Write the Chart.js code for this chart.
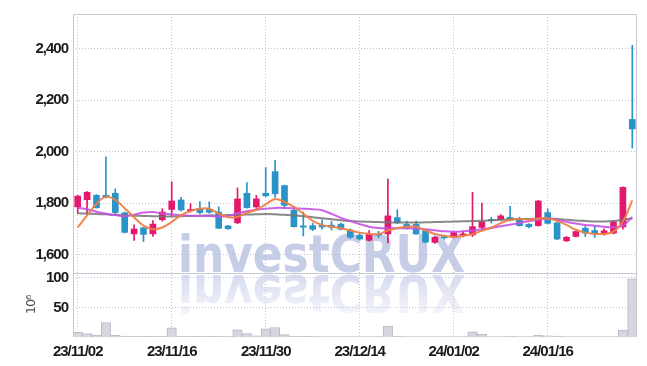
<!DOCTYPE html>
<html>
<head>
<meta charset="utf-8">
<script src="https://cdn.jsdelivr.net/npm/chart.js@4/dist/chart.umd.min.js"></script>
<style>
  html, body { margin: 0; padding: 0; background: #fff; }
  canvas { display: block; }
</style>
</head>
<body>
<canvas id="chart" width="647" height="366"></canvas>
<script>
const dates = [
  "23/11/02", "23/11/03", "23/11/06", "23/11/07", "23/11/08", "23/11/09", "23/11/10", "23/11/13", "23/11/14", "23/11/15",
  "23/11/16", "23/11/17", "23/11/20", "23/11/21", "23/11/22", "23/11/23", "23/11/24", "23/11/27", "23/11/28", "23/11/29",
  "23/11/30", "23/12/01", "23/12/04", "23/12/05", "23/12/06", "23/12/07", "23/12/08", "23/12/11", "23/12/12", "23/12/13",
  "23/12/14", "23/12/15", "23/12/18", "23/12/19", "23/12/20", "23/12/21", "23/12/22", "23/12/26", "23/12/27", "23/12/28",
  "24/01/02", "24/01/03", "24/01/04", "24/01/05", "24/01/08", "24/01/09", "24/01/10", "24/01/11", "24/01/12", "24/01/15",
  "24/01/16", "24/01/17", "24/01/18", "24/01/19", "24/01/22", "24/01/23", "24/01/24", "24/01/25", "24/01/26", "24/01/29"
];

const opens = [
  1785, 1813, 1830, 1830, 1838, 1762, 1680, 1704, 1680, 1735,
  1775, 1812, 1770, 1778, 1776, 1765, 1711, 1723, 1838, 1785,
  1838, 1922, 1868, 1772, 1711, 1712, 1713, 1714, 1718, 1695,
  1675, 1655, 1679, 1680, 1743, 1717, 1717, 1693, 1647, 1668,
  1667, 1675, 1676, 1705, 1736, 1736, 1744, 1740, 1717, 1712,
  1763, 1723, 1653, 1670, 1702, 1693, 1680, 1683, 1707, 2125
];
const highs = [
  1830, 1845, 1833, 1980, 1855, 1765, 1715, 1705, 1732, 1778,
  1883, 1822, 1798, 1806, 1805, 1785, 1713, 1859, 1880, 1830,
  1938, 1966, 1870, 1785, 1765, 1722, 1735, 1728, 1722, 1700,
  1685, 1693, 1690, 1893, 1774, 1730, 1730, 1697, 1670, 1675,
  1688, 1690, 1842, 1800, 1745, 1755, 1787, 1745, 1720, 1810,
  1778, 1725, 1670, 1692, 1710, 1710, 1700, 1730, 1863, 2413
];
const lows = [
  1760, 1755, 1780, 1820, 1758, 1683, 1655, 1650, 1670, 1730,
  1748, 1768, 1765, 1758, 1760, 1700, 1698, 1720, 1780, 1774,
  1825, 1823, 1778, 1706, 1672, 1693, 1698, 1695, 1695, 1662,
  1655, 1652, 1665, 1645, 1720, 1698, 1678, 1645, 1643, 1660,
  1664, 1668, 1670, 1700, 1722, 1733, 1730, 1710, 1703, 1710,
  1719, 1658, 1650, 1668, 1670, 1666, 1675, 1680, 1698, 2014
];
const closes = [
  1827, 1842, 1782, 1823, 1763, 1686, 1699, 1678, 1718, 1765,
  1808, 1773, 1775, 1763, 1764, 1702, 1700, 1816, 1782, 1816,
  1828, 1836, 1791, 1708, 1706, 1698, 1707, 1706, 1698, 1667,
  1660, 1680, 1675, 1750, 1723, 1702, 1680, 1648, 1667, 1665,
  1685, 1680, 1708, 1727, 1731, 1750, 1734, 1712, 1708, 1808,
  1721, 1660, 1667, 1689, 1683, 1680, 1692, 1726, 1861, 2088
];

// moving averages
const ma5 = [
  1705, 1752, 1797, 1825, 1812, 1780, 1745, 1712, 1698, 1705,
  1727, 1753, 1769, 1778, 1778, 1759, 1745, 1746, 1762, 1774,
  1795, 1816, 1804, 1785, 1759, 1731, 1715, 1708, 1702, 1693,
  1685, 1680, 1680, 1693, 1702, 1708, 1708, 1693, 1680, 1673,
  1668, 1672, 1680, 1692, 1705, 1722, 1735, 1738, 1735, 1740,
  1740, 1731, 1715, 1696, 1685, 1680, 1680, 1689, 1727, 1810
];
const ma20 = [
  1782, 1776, 1766, 1759, 1753, 1749, 1755, 1763, 1765, 1759,
  1756, 1753, 1751, 1750, 1750, 1748, 1750, 1760, 1768, 1774,
  1778, 1781, 1781, 1780, 1778, 1776, 1772, 1758, 1742, 1730,
  1718, 1708, 1703, 1702, 1702, 1702, 1701, 1698, 1694, 1690,
  1688, 1690, 1693, 1698, 1703, 1710, 1716, 1722, 1730, 1735,
  1740, 1735, 1727, 1720, 1715, 1712, 1708, 1706, 1712, 1746
];
const ma60 = [
  1760, 1759, 1757, 1756, 1754, 1752, 1751, 1750, 1749, 1748,
  1748, 1749, 1750, 1751, 1752, 1752, 1753, 1754, 1755, 1756,
  1757, 1756, 1754, 1752, 1749, 1745, 1741, 1737, 1733, 1730,
  1728, 1727, 1726, 1725, 1724, 1724, 1724, 1725, 1726, 1727,
  1728, 1729, 1730, 1731, 1733, 1735, 1736, 1737, 1738, 1739,
  1740, 1738, 1735, 1732, 1730, 1728, 1728, 1730, 1735, 1740
];

// volume, millions
const volumes = [
  7.8, 5.6, 3.3, 24.5, 3.3, 1.5, 1.2, 1.2, 1.0, 1.2,
  15.5, 1.5, 1.0, 1.0, 1.2, 1.0, 1.0, 12, 5.6, 2,
  13.7, 16, 4, 1.5, 1.5, 1.2, 0.8, 0.8, 0.6, 0.6,
  0.5, 0.5, 0.6, 18.5, 1.5, 0.6, 0.5, 0.5, 0.5, 0.5,
  0.5, 0.5, 8.9, 5, 0.8, 0.6, 1.5, 0.6, 0.5, 3.3,
  2, 1.5, 0.5, 0.5, 0.6, 0.6, 0.5, 0.6, 11.7, 98
];

const priceTicks = [1600, 1800, 2000, 2200, 2400];
const volumeTicks = [50, 100];

const UP = "#e2196c";
const DOWN = "#2a94c8";
const candleColors = opens.map((o, i) => (closes[i] >= o ? UP : DOWN));

const gridColor = "rgba(185, 190, 225, 0.9)";
const tickFont = { family: "'Liberation Sans', sans-serif", size: 15, weight: "bold" };
const tickColor = "#1c1c1c";

const watermark = {
  id: "watermark",
  beforeDraw(chart) {
    // tighter labels, the original uses a narrow face
    chart.ctx.letterSpacing = "-1px";
  },
  beforeDatasetsDraw(chart) {
    const { ctx, chartArea } = chart;
    const text = "investCRUX";
    const left = chartArea.left + 105;
    const base = 272;
    ctx.save();
    ctx.letterSpacing = "0px";
    ctx.font = "bold 52px 'DejaVu Sans', sans-serif";
    const m = ctx.measureText(text);
    const sx = 287 / m.width;
    const sy = 38 / ctx.measureText("C").actualBoundingBoxAscent;
    ctx.setTransform(sx, 0, 0, sy, left, base);
    ctx.fillStyle = "rgba(188, 196, 226, 0.85)";
    ctx.fillText(text, 0, 0);
    // reflection
    ctx.setTransform(sx, 0, 0, -sy, left, base + 3);
    const g = ctx.createLinearGradient(0, 0, 0, -48);
    g.addColorStop(0, "rgba(205, 210, 235, 0.8)");
    g.addColorStop(1, "rgba(205, 210, 235, 0.1)");
    ctx.fillStyle = g;
    ctx.fillText(text, 0, 0);
    ctx.restore();
  },
  afterDatasetsDraw(chart) {
    const { ctx, chartArea, scales } = chart;
    ctx.save();
    ctx.strokeStyle = "#c8c8d0";
    ctx.lineWidth = 1;
    ctx.beginPath();
    ctx.moveTo(chartArea.left + 0.5, chartArea.bottom);
    ctx.lineTo(chartArea.left + 0.5, chartArea.top + 0.5);
    ctx.lineTo(chartArea.right - 0.5, chartArea.top + 0.5);
    ctx.lineTo(chartArea.right - 0.5, chartArea.bottom);
    const sep = Math.round(scales.y.bottom) + 0.5;
    ctx.moveTo(chartArea.left, sep);
    ctx.lineTo(chartArea.right, sep);
    ctx.stroke();
    ctx.restore();
  }
};

const lineDs = (data, color, order) => ({
  type: "line",
  data: data,
  borderColor: color,
  borderWidth: 2,
  pointRadius: 0,
  tension: 0.35,
  yAxisID: "y",
  order: order,
});

new Chart(document.getElementById("chart"), {
  type: "bar",
  data: {
    labels: dates,
    datasets: [
      lineDs(ma5, "rgba(240, 128, 70, 0.95)", 0),
      lineDs(ma20, "rgba(200, 80, 230, 0.9)", 1),
      lineDs(ma60, "rgba(115, 115, 115, 0.85)", 2),
      {
        data: opens.map((o, i) => [o, closes[i]]),
        backgroundColor: candleColors,
        barThickness: 6,
        grouped: false,
        yAxisID: "y",
        order: 3,
      },
      {
        data: lows.map((l, i) => [l, highs[i]]),
        backgroundColor: candleColors,
        barThickness: 1,
        grouped: false,
        yAxisID: "y",
        order: 4,
      },
      {
        data: volumes,
        backgroundColor: "rgba(214, 214, 222, 1)",
        borderColor: "rgba(185, 185, 198, 1)",
        borderWidth: 1,
        barPercentage: 1,
        categoryPercentage: 1,
        grouped: false,
        yAxisID: "yv",
        order: 5,
      },
    ],
  },
  options: {
    responsive: false,
    animation: false,
    layout: { padding: { top: 9, right: 10, left: 0, bottom: 0 } },
    plugins: { legend: { display: false }, tooltip: { enabled: false } },
    scales: {
      x: {
        grid: { color: gridColor, offset: false, drawTicks: false },
        border: { display: false, dash: [1, 2] },
        ticks: { font: tickFont, color: tickColor, autoSkip: false, maxRotation: 0, padding: 6 },
        afterBuildTicks: (s) => { s.ticks = s.ticks.filter((t) => t.value % 10 === 0); },
        afterFit: (s) => { s.height = 29; },
      },
      yv: {
        type: "linear",
        position: "left",
        stack: "panels",
        stackWeight: 65,
        min: 0,
        max: 108,
        afterBuildTicks: (s) => { s.ticks = volumeTicks.map((v) => ({ value: v })); },
        grid: { color: gridColor, drawTicks: false },
        border: { display: false, dash: [1, 2] },
        ticks: { font: tickFont, color: tickColor, padding: 5 },
        title: { display: true, text: "10⁶", color: "#555", font: { family: "'DejaVu Sans', sans-serif", size: 13 }, padding: { top: 24 } },
        afterFit: (s) => { s.width = 73; },
      },
      y: {
        type: "linear",
        position: "left",
        stack: "panels",
        stackWeight: 263,
        min: 1528,
        max: 2535,
        afterBuildTicks: (s) => { s.ticks = priceTicks.map((v) => ({ value: v })); },
        grid: { color: gridColor, drawTicks: false },
        border: { display: false, dash: [1, 2] },
        ticks: { font: tickFont, color: tickColor, padding: 5 },
        afterFit: (s) => { s.width = 73; },
      },
    },
  },
  plugins: [watermark],
});
</script>
</body>
</html>
